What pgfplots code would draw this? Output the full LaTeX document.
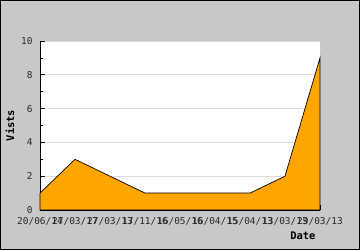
\documentclass[border=0pt]{standalone}
\usepackage{pgfplots}
\pgfplotsset{compat=1.18}
\usepackage{fontspec}
\setmainfont{DejaVu Sans Mono}
\definecolor{bggray}{RGB}{200,200,200}
\definecolor{gridgray}{RGB}{220,220,220}
\definecolor{areaorange}{RGB}{255,165,0}
\definecolor{txt}{RGB}{40,40,40}
\pgfplotsset{layers/mylayers/.define layer set={axis background,axis grid,pre main,main,axis ticks,axis lines,axis tick labels,axis descriptions,axis foreground}{}}
\begin{document}
\begin{tikzpicture}[x=1bp,y=1bp]
\draw[line width=1bp,draw=black,fill=bggray] (0.5,0.5) rectangle (359.5,249.5);
\begin{axis}[
  set layers=mylayers,
  at={(40bp,40bp)}, anchor=south west,
  scale only axis, width=280bp, height=169bp,
  xmin=0, xmax=8, ymin=0, ymax=10,
  axis background/.style={fill=white},
  axis x line=bottom, axis y line=left,
  axis line style={-, black, line width=0.8bp},
  xtick={0,...,8},
  xticklabels={20/06/14,27/03/17,27/03/13,17/11/16,16/05/16,16/04/15,15/04/13,13/03/13,29/03/13},
  ytick={0,2,4,6,8,10},
  minor y tick num=1,
  tick align=inside,
  major tick length=4.5bp, minor tick length=3bp,
  tick style={black, line width=0.6bp},
  ymajorgrids, grid style={gridgray, line width=0.8bp},
  ticklabel style={font=\fontsize{9.5}{10}\selectfont, text=txt},
  xticklabel style={yshift=-4bp},
  yticklabel style={xshift=-4bp},
  /pgf/number format/assume math mode=true,
  xlabel={\textbf{Date}}, ylabel={\textbf{Vists}},
  label style={font=\fontsize{10.5}{11}\selectfont, text=black},
  xlabel style={at={(axis description cs:1,0)}, anchor=east, yshift=-26bp, xshift=-1bp},
  ylabel style={at={(axis description cs:0,0.5)}, anchor=center, xshift=0bp, yshift=30bp, rotate=0},
  clip=false,
]
\addplot[fill=areaorange, draw=black, line width=0.7bp] coordinates {
(0,1) (1,3) (2,2) (3,1) (4,1) (5,1) (6,1) (7,2) (8,9)
} \closedcycle;
\end{axis}
\end{tikzpicture}
\end{document}
